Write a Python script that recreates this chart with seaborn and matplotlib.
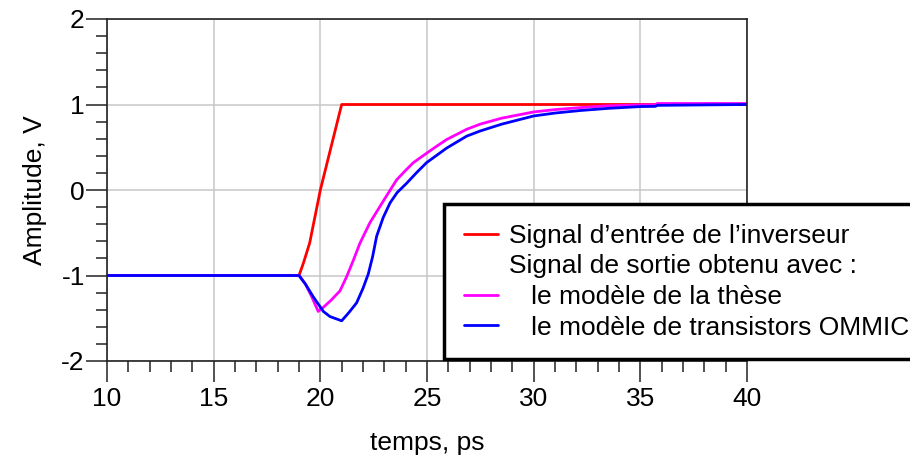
import numpy as np
import pandas as pd
import matplotlib
matplotlib.use("Agg")
import matplotlib.pyplot as plt
from matplotlib.ticker import MultipleLocator
import seaborn as sns

# Données (temps en ps, amplitude en V)
t_entree = [10, 19.0, 19.2, 19.5, 20.0, 20.5, 21.0, 25, 30, 35, 40]
v_entree = [-1, -1, -0.86, -0.62, 0.0, 0.5, 1.0, 1.0, 1.0, 1.0, 1.0]

t_these = [10, 19.0, 19.3, 19.6, 19.9, 20.15, 20.5, 20.92, 21.24, 21.55, 21.86,
           22.33, 22.8, 23.2, 23.58, 24.0, 24.36, 24.98, 25.5, 25.92, 26.86,
           27.49, 28.5, 30, 31, 32.2, 33.5, 35, 35.7, 35.8, 40]
v_these = [-1, -1, -1.1, -1.25, -1.42, -1.37, -1.29, -1.18, -1.01, -0.82, -0.62,
           -0.38, -0.19, -0.03, 0.12, 0.23, 0.32, 0.43, 0.52, 0.59, 0.71,
           0.77, 0.84, 0.913, 0.94, 0.964, 0.985, 0.995, 0.998, 1.012, 1.012]

t_ommic = [10, 19.0, 19.3, 19.67, 20.14, 20.45, 21.0, 21.35, 21.7, 22.0, 22.25,
           22.45, 22.64, 22.95, 23.27, 23.6, 24.05, 24.5, 24.98, 25.92, 26.86,
           27.49, 28.5, 30, 31, 32.2, 33.5, 35, 35.7, 35.8, 40]
v_ommic = [-1, -1, -1.1, -1.25, -1.42, -1.48, -1.53, -1.43, -1.32, -1.15, -0.98,
           -0.78, -0.54, -0.32, -0.15, -0.03, 0.08, 0.2, 0.32, 0.49, 0.63,
           0.69, 0.77, 0.866, 0.9, 0.93, 0.955, 0.976, 0.978, 0.99, 1.0]

labels = ["Signal d\u2019entrée de l\u2019inverseur",
          "Signal de sortie obtenu avec :",
          "   le modèle de la thèse",
          "   le modèle de transistors OMMIC"]

sns.set_style("white")
plt.rcParams['font.family'] = ['Liberation Sans', 'DejaVu Sans']
plt.rcParams['axes.unicode_minus'] = False
plt.rcParams['text.color'] = 'black'
plt.rcParams['axes.labelcolor'] = 'black'
plt.rcParams['xtick.color'] = 'black'
plt.rcParams['ytick.color'] = 'black'

fig = plt.figure(figsize=(9.1, 4.62), dpi=100)
ax = fig.add_axes([107 / 910, 1 - 361 / 462, 640 / 910, 342 / 462])

# Tracer les courbes
sns.lineplot(x=t_entree, y=v_entree, color="#FF0000", linewidth=2, ax=ax)
sns.lineplot(x=t_these, y=v_these, color="#FF00FF", linewidth=2, ax=ax)
sns.lineplot(x=t_ommic, y=v_ommic, color="#0000FF", linewidth=2, ax=ax)

ax.set_xlim(10, 40)
ax.set_ylim(-2, 2)
ax.xaxis.set_major_locator(MultipleLocator(5))
ax.xaxis.set_minor_locator(MultipleLocator(1))
ax.yaxis.set_major_locator(MultipleLocator(1))
ax.yaxis.set_minor_locator(MultipleLocator(0.2))

ax.grid(True, which="major", color="#C8C8C8", linewidth=1.1)
ax.set_axisbelow(True)
for s in ax.spines.values():
    s.set_color("#222222")
    s.set_linewidth(1.2)

ax.tick_params(axis="both", which="major", direction="out", length=15, width=1.1,
               color="#222222", labelsize=19, bottom=True, left=True)
ax.tick_params(axis="both", which="minor", direction="out", length=8, width=1.1,
               color="#222222", bottom=True, left=True)
ax.tick_params(axis="y", which="major", pad=1)
ax.tick_params(axis="x", which="major", pad=4)

ax.set_xlabel("temps, ps", fontsize=19, labelpad=14)
ax.set_ylabel("Amplitude, V", fontsize=19, labelpad=10)

# Légende
handles = [plt.Line2D([], [], color="#FF0000", lw=2),
           plt.Line2D([], [], color="none", lw=2),
           plt.Line2D([], [], color="#FF00FF", lw=2),
           plt.Line2D([], [], color="#0000FF", lw=2)]
leg = fig.legend(handles, labels, loc="upper left",
                 bbox_to_anchor=(444 / 910, 1 - 204 / 462), fontsize=19,
                 frameon=True, fancybox=False, framealpha=1, edgecolor="black",
                 handlelength=1.3, handletextpad=0.4, labelspacing=0.25,
                 borderpad=0.75, borderaxespad=0)
leg.get_frame().set_linewidth(2.5)

fig.savefig("out.png", dpi=100)
